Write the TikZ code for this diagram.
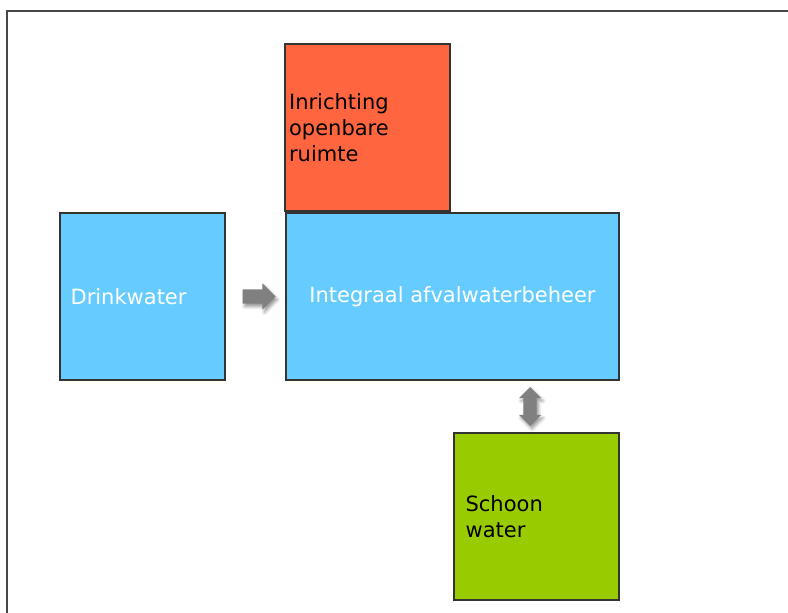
\documentclass[tikz,border=0pt]{standalone}
\usepackage{fontspec}
\setmainfont{DejaVu Sans}
\usetikzlibrary{calc, shapes.arrows, shadows.blur}
\definecolor{waterColor}{RGB}{102, 204, 255}
\definecolor{spaceColor}{RGB}{255, 102, 64}
\definecolor{cleanColor}{RGB}{153, 204, 0}
\definecolor{arrowColor}{RGB}{128, 128, 128}
\definecolor{edgeColor}{RGB}{51, 51, 51}

\begin{document}
\begin{tikzpicture}[
    x=1pt, y=-1pt,
    every node/.style={font=\fontsize{21}{26}\selectfont},
    box/.style={draw=edgeColor, line width=1.2pt, inner sep=0pt, minimum width=165pt, minimum height=167pt},
    box text/.style={anchor=west, align=left, inner sep=0pt},
    flow arrow/.style={fill=arrowColor, inner sep=0pt, blur shadow={shadow xshift=2pt, shadow yshift=-3pt, shadow blur radius=3pt, shadow opacity=40}},
    right flow/.style={flow arrow, single arrow, inner sep=7pt, single arrow head extend=6pt, minimum height=33pt},
    both flow/.style={flow arrow, double arrow, rotate=90, inner sep=6.5pt, double arrow head extend=4.5pt, minimum height=39pt}
]
    \useasboundingbox (0,0) rectangle (788,613);
    \draw[edgeColor!90, line width=2pt] (7,614) |- (790,11);

    \draw (452.5,296.5) node[box, fill=waterColor, minimum width=333pt] (waste) {};
    \draw (waste) node[box text, anchor=center, text=white] (waste text) {Integraal afvalwaterbeheer};

    \draw (waste) ++(-310,0) node[box, fill=waterColor] (drink) {};
    \draw (drink.west) ++(11,0) node[box text, text=white] (drink text) {Drinkwater};

    \draw (waste) ++(-85,-169) node[box, fill=spaceColor] (space) {};
    \draw (space.west) ++(4.5,0) node[box text] (space text) {Inrichting\\openbare\\ruimte};

    \draw (waste) ++(84,220) node[box, fill=cleanColor] (clean) {};
    \draw (clean.west) ++(12,0) node[box text] (clean text) {Schoon\\water};

    \node[right flow] (drink arrow) at ($ (drink.east)!.5!(waste.west) $) {};
    \node[both flow] (clean arrow) at ($ (clean.north)!.5!(clean.north|-waste.south) +(-6.5,0) $) {};
\end{tikzpicture}
\end{document}
